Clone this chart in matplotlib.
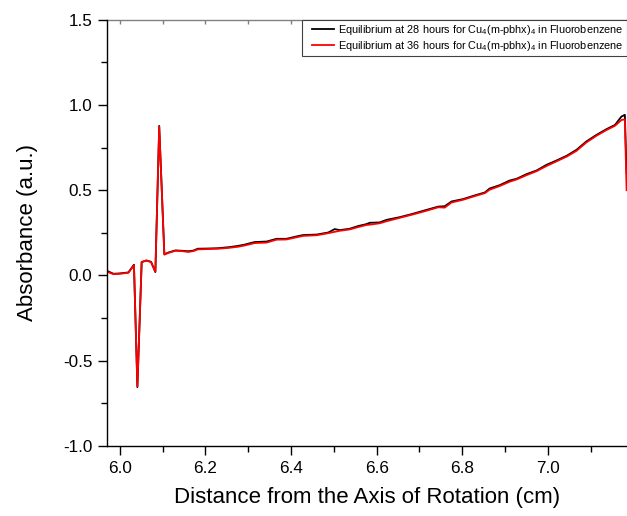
import matplotlib
matplotlib.use("Agg")
import matplotlib.pyplot as plt
from matplotlib.ticker import MultipleLocator, FormatStrFormatter
from matplotlib.lines import Line2D
from matplotlib.legend_handler import HandlerLine2D

plt.rcParams['font.family'] = ['Liberation Sans', 'DejaVu Sans']
plt.rcParams['mathtext.fontset'] = 'custom'
plt.rcParams['mathtext.rm'] = 'Liberation Sans'
plt.rcParams['mathtext.it'] = 'Liberation Sans:italic'
plt.rcParams['axes.unicode_minus'] = False

# Radial position (cm)
radius = [5.972, 5.985, 6.000, 6.020, 6.033, 6.041, 6.051, 6.062, 6.073, 6.083,
          6.092, 6.104, 6.114, 6.130, 6.145, 6.160, 6.172, 6.182, 6.205, 6.230,
          6.255, 6.275, 6.290, 6.315, 6.343, 6.366, 6.389, 6.413, 6.428, 6.460,
          6.487, 6.502, 6.514, 6.537, 6.557, 6.576, 6.584, 6.607, 6.623, 6.654,
          6.685, 6.717, 6.744, 6.759, 6.775, 6.802, 6.826, 6.853, 6.864, 6.888,
          6.911, 6.927, 6.950, 6.974, 6.997, 7.020, 7.044, 7.067, 7.090, 7.114,
          7.137, 7.157, 7.172, 7.180, 7.184]

# Absorbance at 28 h
abs_28h = [0.025, 0.010, 0.012, 0.018, 0.063, -0.655, 0.078, 0.088, 0.080, 0.020,
           0.877, 0.125, 0.135, 0.147, 0.145, 0.142, 0.146, 0.157, 0.158, 0.160,
           0.166, 0.173, 0.180, 0.196, 0.199, 0.215, 0.215, 0.229, 0.237, 0.240,
           0.252, 0.272, 0.266, 0.274, 0.290, 0.301, 0.309, 0.311, 0.326, 0.342,
           0.362, 0.385, 0.404, 0.406, 0.434, 0.448, 0.467, 0.487, 0.510, 0.530,
           0.557, 0.567, 0.594, 0.616, 0.649, 0.674, 0.702, 0.737, 0.786, 0.825,
           0.858, 0.883, 0.932, 0.942, 0.600]

# Absorbance at 36 h
abs_36h = [0.020, 0.008, 0.010, 0.016, 0.060, -0.650, 0.080, 0.088, 0.078, 0.022,
           0.872, 0.122, 0.133, 0.145, 0.143, 0.138, 0.143, 0.153, 0.155, 0.157,
           0.162, 0.168, 0.175, 0.190, 0.193, 0.210, 0.211, 0.224, 0.232, 0.236,
           0.248, 0.256, 0.262, 0.270, 0.284, 0.296, 0.298, 0.306, 0.318, 0.338,
           0.358, 0.380, 0.400, 0.398, 0.428, 0.444, 0.463, 0.483, 0.503, 0.525,
           0.550, 0.563, 0.588, 0.612, 0.642, 0.669, 0.697, 0.731, 0.780, 0.820,
           0.853, 0.878, 0.912, 0.915, 0.500]

label_28 = "Equilibrium at 28 hours for Cu$_4$(m-pbhx)$_4$ in Fluorobenzene"
label_36 = "Equilibrium at 36 hours for Cu$_4$(m-pbhx)$_4$ in Fluorobenzene"

W, H = 627, 516
fig = plt.figure(figsize=(W / 100, H / 100), dpi=100)
ax = fig.add_axes([107 / W, 1 - 446 / H, (W - 107) / W, (446 - 19.7) / H])

ax.plot(radius, abs_28h, color='black', lw=1.3, label=label_28)
ax.plot(radius, abs_36h, color='red', lw=1.3, label=label_36)

ax.set_xlim(5.970, 7.185)
ax.set_ylim(-1.0, 1.5)

ax.xaxis.set_major_locator(MultipleLocator(0.2))
ax.xaxis.set_minor_locator(MultipleLocator(0.1))
ax.yaxis.set_major_locator(MultipleLocator(0.5))
ax.yaxis.set_minor_locator(MultipleLocator(0.25))
ax.xaxis.set_major_formatter(FormatStrFormatter('%.1f'))
ax.yaxis.set_major_formatter(FormatStrFormatter('%.1f'))

ax.tick_params(which='major', direction='out', length=6.5, width=1.0,
               labelsize=12.3, pad=4)
ax.tick_params(which='minor', direction='out', length=4, width=1.0)
ax.tick_params(top=False, right=False)

for side in ('left', 'bottom'):
    ax.spines[side].set_linewidth(1.0)
ax.spines['right'].set_visible(False)
ax.spines['top'].set_visible(False)

# grey top frame with small inward ticks
top = ax.secondary_xaxis('top')
top.xaxis.set_major_locator(MultipleLocator(0.1))
top.tick_params(direction='in', length=3, width=1.0, color='#808080',
                labeltop=False)
top.spines['top'].set_color('#808080')
top.spines['top'].set_linewidth(1.0)

ax.set_xlabel("Distance from the Axis of Rotation (cm)", fontsize=16, labelpad=8)
ax.set_ylabel("Absorbance (a.u.)", fontsize=16, labelpad=18)

leg = ax.legend(loc='upper right', bbox_to_anchor=(1.0, 1.0), fontsize=7.8,
                frameon=True, fancybox=False, framealpha=1, edgecolor='#404040',
                borderaxespad=0, handlelength=2.7, handletextpad=0.37,
                labelspacing=0.2, borderpad=0.3,
                handler_map={Line2D: HandlerLine2D(xpad=0.6)})
leg.get_frame().set_linewidth(0.8)

fig.savefig("out.png", dpi=100)
